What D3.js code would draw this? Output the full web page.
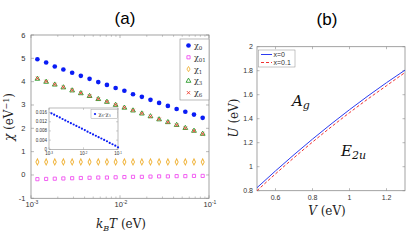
<!DOCTYPE html>
<html>
<head>
  <title>Susceptibility and phase boundary</title>
  <meta charset="utf-8">
  <script src="https://d3js.org/d3.v7.min.js"></script>
  <style>
    body { margin: 0; background: #fff; }
    text { font-family: "Liberation Sans", Arial, sans-serif; }
    .serif { font-family: "DejaVu Serif", "Liberation Serif", serif; }
  </style>
</head>
<body>
<script type="text/javascript">

/*
  Data
*/

// panel (a): k_B T on the log axis, one value per marker
var kbt = [0.00118, 0.00148, 0.00185, 0.00231, 0.0029, 0.00363, 0.00455, 0.0057, 0.00713, 0.00893,
           0.0112, 0.014, 0.0176, 0.022, 0.0275, 0.0345, 0.0433, 0.0542, 0.0678, 0.0849];
var chi0  = [4.96, 4.82, 4.65, 4.52, 4.38, 4.25, 4.12, 3.98, 3.86, 3.73,
             3.61, 3.46, 3.35, 3.22, 3.09, 2.96, 2.83, 2.71, 2.59, 2.45];
var chi01 = [-0.18, -0.17, -0.16, -0.15, -0.14, -0.13, -0.12, -0.11, -0.11, -0.10,
             -0.09, -0.08, -0.08, -0.07, -0.06, -0.06, -0.05, -0.05, -0.04, -0.04];
var chi1  = [0.56, 0.56, 0.56, 0.56, 0.56, 0.56, 0.56, 0.56, 0.56, 0.56,
             0.56, 0.56, 0.56, 0.56, 0.56, 0.56, 0.56, 0.56, 0.56, 0.56];
var chi3  = [4.12, 3.99, 3.87, 3.75, 3.62, 3.50, 3.38, 3.25, 3.13, 3.00,
             2.88, 2.76, 2.63, 2.51, 2.38, 2.26, 2.14, 2.01, 1.89, 1.76];
var chi6  = [4.14, 4.01, 3.88, 3.76, 3.63, 3.51, 3.39, 3.26, 3.14, 3.01,
             2.89, 2.77, 2.64, 2.51, 2.39, 2.26, 2.14, 2.01, 1.89, 1.76];

// inset: chi6 - chi3
var insetT = [0.00118, 0.00141, 0.0017, 0.00205, 0.00247, 0.00297, 0.00357, 0.0043, 0.00518, 0.00622,
              0.0075, 0.009, 0.0109, 0.0131, 0.0157, 0.0189, 0.0228, 0.0274, 0.033, 0.0397,
              0.0479, 0.0575, 0.0693, 0.0834, 0.1];
var insetDiff = [0.0157, 0.0151, 0.0145, 0.0139, 0.0132, 0.0126, 0.0120, 0.0114, 0.0108, 0.0102,
                 0.0096, 0.0090, 0.0084, 0.0077, 0.0071, 0.0065, 0.0059, 0.0053, 0.0047, 0.0041,
                 0.0035, 0.0028, 0.0022, 0.0016, 0.0009];

// panel (b): U against V
var volt = [0.5, 0.6, 0.7, 0.8, 0.9, 1.0, 1.1, 1.2, 1.3];
var uX0  = [0.825, 0.965, 1.10, 1.23, 1.355, 1.475, 1.59, 1.70, 1.805];
var uX01 = [0.80, 0.94, 1.075, 1.205, 1.33, 1.45, 1.565, 1.675, 1.785];

var yTicksA = [-1, 0, 1, 2, 3, 4, 5, 6];
var xTicksA = [0.001, 0.01, 0.1];
var xTickLabelsA = ["-3", "-2", "-1"];
var yTicksInset = [0, 0.004, 0.008, 0.012, 0.016];
var xTicksB = [0.6, 0.8, 1, 1.2];
var yTicksB = [0.8, 1, 1.2, 1.4, 1.6, 1.8, 2];

var series = [
  {name: "0",  values: chi0,  color: "#0a1cf5", type: d3.symbolCircle,   size: 17, fill: true},
  {name: "01", values: chi01, color: "#f050f0", type: d3.symbolSquare,   size: 10, fill: false},
  {name: "1",  values: chi1,  color: "#f0b43c", type: d3.symbolDiamond,  size: 8,  fill: false},
  {name: "3",  values: chi3,  color: "#2a9a2a", type: d3.symbolTriangle, size: 10, fill: false},
  {name: "6",  values: chi6,  color: "#f03c2c", type: d3.symbolX,        size: 8,  fill: false}
];

var width = 415, height = 240;
var frameColor = "#8c8c8c", tickText = "#333";

var svg = d3.select("body")
  .append("svg")
    .attr("width", width)
    .attr("height", height);

function mark(sel, s) {
  sel.attr("d", d3.symbol().type(s.type).size(s.size))
    .attr("fill", s.fill ? s.color : "none")
    .attr("stroke", s.color)
    .attr("stroke-width", s.fill ? 0 : 0.9);
}

/*
  Panel (a)
*/

var xA = d3.scaleLog().domain([0.001, 0.1]).range([31, 209]);
var yA = d3.scaleLinear().domain([-1, 6]).range([198.3, 35]);

var gA = svg.append("g").attr("class", "panelA");

gA.append("text")
  .attr("x", 125).attr("y", 24)
  .attr("text-anchor", "middle")
  .style("font-size", "17px")
  .text("(a)");

// ticks, inward on all four sides
var minorA = [];
[0.001, 0.01].forEach(function (d) {
  for (var k = 2; k <= 9; k++) minorA.push(d * k);
});
gA.selectAll(".minor").data(minorA).enter().append("path")
  .attr("d", function (d) {
    var x = xA(d);
    return "M" + x + "," + yA(-1) + "v-1.8M" + x + "," + yA(6) + "v1.8";
  })
  .attr("stroke", frameColor).attr("stroke-width", 0.5);
gA.selectAll(".xmaj").data(xTicksA).enter().append("path")
  .attr("d", function (d) {
    var x = xA(d);
    return "M" + x + "," + yA(-1) + "v-3M" + x + "," + yA(6) + "v3";
  })
  .attr("stroke", frameColor).attr("stroke-width", 0.6);
gA.selectAll(".ymaj").data(yTicksA).enter().append("path")
  .attr("d", function (d) {
    return "M31," + yA(d) + "h3M209," + yA(d) + "h-3";
  })
  .attr("stroke", frameColor).attr("stroke-width", 0.6);

gA.append("rect")
  .attr("x", 31).attr("y", yA(6))
  .attr("width", 178).attr("height", yA(-1) - yA(6))
  .attr("fill", "none").attr("stroke", frameColor).attr("stroke-width", 0.8);

gA.selectAll(".ylab").data(yTicksA).enter().append("text")
  .attr("x", 25.5).attr("y", function (d) { return yA(d) + 2.5; })
  .attr("text-anchor", "end")
  .style("font-size", "7.5px").attr("fill", tickText)
  .text(function (d) { return d; });

var xl = gA.selectAll(".xlab").data(xTicksA).enter().append("text")
  .attr("x", function (d) { return xA(d) + 1; })
  .attr("y", 207)
  .attr("text-anchor", "middle")
  .style("font-size", "7.5px").attr("fill", tickText);
xl.append("tspan").text("10");
xl.append("tspan").attr("dy", -3).style("font-size", "5px")
  .text(function (d, i) { return xTickLabelsA[i]; });

// axis titles
var xt = gA.append("text")
  .attr("class", "serif")
  .attr("x", 121).attr("y", 228)
  .attr("text-anchor", "middle")
  .style("font-size", "12px").attr("fill", "#222");
xt.append("tspan").style("font-style", "italic").text("k");
xt.append("tspan").attr("dy", 2.5).style("font-size", "8px").style("font-style", "italic").text("B");
xt.append("tspan").attr("dy", -2.5).style("font-style", "italic").text("T");
xt.append("tspan").text(" (eV)");

var yt = gA.append("text")
  .attr("class", "serif")
  .attr("transform", "translate(13,117) rotate(-90)")
  .attr("text-anchor", "middle")
  .style("font-size", "12px").attr("fill", "#222");
yt.append("tspan").style("font-style", "italic").text("χ");
yt.append("tspan").text(" (eV");
yt.append("tspan").attr("dy", -4).style("font-size", "8px").text("−1");
yt.append("tspan").attr("dy", 4).text(")");

// markers
series.forEach(function (s) {
  gA.append("g").selectAll("path")
    .data(kbt)
    .enter().append("path")
      .attr("transform", function (d, i) {
        return "translate(" + xA(d) + "," + yA(s.values[i]) + ")" + (s.type === d3.symbolDiamond ? " scale(1,1.15)" : "");
      })
      .call(mark, s);
});

// legend
gA.append("rect")
  .attr("x", 180).attr("y", 39).attr("width", 29).attr("height", 61)
  .attr("fill", "#fff").attr("stroke", frameColor).attr("stroke-width", 0.6);
series.forEach(function (s, i) {
  var ly = 45.5 + i * 11.8;
  gA.append("path")
    .attr("transform", "translate(188.5," + ly + ")")
    .call(mark, s);
  var t = gA.append("text")
    .attr("class", "serif")
    .attr("x", 194).attr("y", ly + 2.5)
    .style("font-size", "8px").attr("fill", "#333");
  t.append("tspan").text("χ");
  t.append("tspan").attr("dy", 2).style("font-size", "5.5px").text(s.name);
});

/*
  Inset of panel (a)
*/

var xI = d3.scaleLog().domain([0.001, 0.1]).range([49, 118]);
var yI = d3.scaleLinear().domain([0, 0.018]).range([149.3, 108]);

var gI = svg.append("g").attr("class", "inset");
gI.append("rect")
  .attr("x", 49).attr("y", 108).attr("width", 69).attr("height", 41.3)
  .attr("fill", "#fff").attr("stroke", frameColor).attr("stroke-width", 0.6);

gI.selectAll(".iy").data(yTicksInset).enter().append("path")
  .attr("d", function (d) { return "M49," + yI(d) + "h2M118," + yI(d) + "h-2"; })
  .attr("stroke", frameColor).attr("stroke-width", 0.4);
gI.selectAll(".ix").data(xTicksA).enter().append("path")
  .attr("d", function (d) { return "M" + xI(d) + ",149.3v-2M" + xI(d) + ",108v2"; })
  .attr("stroke", frameColor).attr("stroke-width", 0.4);

gI.selectAll(".iyl").data(yTicksInset).enter().append("text")
  .attr("x", 47).attr("y", function (d) { return yI(d) + 1.5; })
  .attr("text-anchor", "end")
  .style("font-size", "4.5px").attr("fill", tickText)
  .text(function (d) { return d === 0 ? "0" : d3.format(".3f")(d); });

var ixl = gI.selectAll(".ixl").data(xTicksA).enter().append("text")
  .attr("x", function (d) { return xI(d); })
  .attr("y", 155)
  .attr("text-anchor", "middle")
  .style("font-size", "4.5px").attr("fill", tickText);
ixl.append("tspan").text("10");
ixl.append("tspan").attr("dy", -1.5).style("font-size", "3px")
  .text(function (d, i) { return xTickLabelsA[i]; });

gI.selectAll("circle").data(insetT).enter().append("circle")
  .attr("cx", function (d) { return xI(d); })
  .attr("cy", function (d, i) { return yI(insetDiff[i]); })
  .attr("r", 1.1)
  .attr("fill", "#0a1cf5");

gI.append("rect")
  .attr("x", 91).attr("y", 109.5).attr("width", 26.5).attr("height", 9)
  .attr("fill", "#fff").attr("stroke", frameColor).attr("stroke-width", 0.4);
gI.append("circle").attr("cx", 95).attr("cy", 114).attr("r", 1.1).attr("fill", "#0a1cf5");
var il = gI.append("text")
  .attr("class", "serif")
  .attr("x", 98.5).attr("y", 115.5)
  .style("font-size", "5px").attr("fill", "#333");
il.append("tspan").text("χ");
il.append("tspan").attr("dy", 1).style("font-size", "3.5px").text("6");
il.append("tspan").attr("dy", -1).text("-χ");
il.append("tspan").attr("dy", 1).style("font-size", "3.5px").text("3");

/*
  Panel (b)
*/

var xB = d3.scaleLinear().domain([0.5, 1.3]).range([257, 405]);
var yB = d3.scaleLinear().domain([0.8, 2]).range([190.7, 46.7]);

var gB = svg.append("g").attr("class", "panelB");

gB.append("text")
  .attr("x", 327).attr("y", 25)
  .attr("text-anchor", "middle")
  .style("font-size", "17px")
  .text("(b)");

gB.selectAll(".bx").data(xTicksB).enter().append("path")
  .attr("d", function (d) { return "M" + xB(d) + ",190.7v-2.5M" + xB(d) + ",46.7v2.5"; })
  .attr("stroke", frameColor).attr("stroke-width", 0.6);
gB.selectAll(".by").data(yTicksB).enter().append("path")
  .attr("d", function (d) { return "M257," + yB(d) + "h2.5M405," + yB(d) + "h-2.5"; })
  .attr("stroke", frameColor).attr("stroke-width", 0.6);

gB.append("rect")
  .attr("x", 257).attr("y", 46.7).attr("width", 148).attr("height", 144)
  .attr("fill", "none").attr("stroke", frameColor).attr("stroke-width", 0.8);

gB.selectAll(".bxl").data(xTicksB).enter().append("text")
  .attr("x", function (d) { return xB(d); }).attr("y", 200)
  .attr("text-anchor", "middle")
  .style("font-size", "7px").attr("fill", tickText)
  .text(function (d) { return d; });
gB.selectAll(".byl").data(yTicksB).enter().append("text")
  .attr("x", 253).attr("y", function (d) { return yB(d) + 2.5; })
  .attr("text-anchor", "end")
  .style("font-size", "7px").attr("fill", tickText)
  .text(function (d) { return d; });

var line = d3.line()
  .curve(d3.curveMonotoneX)
  .x(function (d) { return xB(d[0]); })
  .y(function (d) { return yB(d[1]); });

gB.append("path")
  .datum(volt.map(function (v, i) { return [v, uX01[i]]; }))
  .attr("d", line)
  .attr("fill", "none").attr("stroke", "#f03232").attr("stroke-width", 1)
  .attr("stroke-dasharray", "3,2");
gB.append("path")
  .datum(volt.map(function (v, i) { return [v, uX0[i]]; }))
  .attr("d", line)
  .attr("fill", "none").attr("stroke", "#2c3cf0").attr("stroke-width", 1);

// legend
gB.append("rect")
  .attr("x", 258.5).attr("y", 50).attr("width", 36.5).attr("height", 17)
  .attr("fill", "#fff").attr("stroke", frameColor).attr("stroke-width", 0.5);
gB.append("line").attr("x1", 261).attr("x2", 272).attr("y1", 54.5).attr("y2", 54.5)
  .attr("stroke", "#2c3cf0").attr("stroke-width", 1);
gB.append("line").attr("x1", 261).attr("x2", 272).attr("y1", 62.5).attr("y2", 62.5)
  .attr("stroke", "#f03232").attr("stroke-width", 1).attr("stroke-dasharray", "3,2");
gB.append("text").attr("x", 273.5).attr("y", 57)
  .style("font-size", "7px").attr("fill", "#333").text("x=0");
gB.append("text").attr("x", 273.5).attr("y", 65)
  .style("font-size", "7px").attr("fill", "#333").text("x=0.1");

// region labels
var ag = gB.append("text").attr("class", "serif")
  .attr("x", 292).attr("y", 106)
  .style("font-size", "15px").style("font-style", "italic").attr("fill", "#111");
ag.append("tspan").text("A");
ag.append("tspan").attr("dy", 3).style("font-size", "11px").text("g");

var eu = gB.append("text").attr("class", "serif")
  .attr("x", 341).attr("y", 156)
  .style("font-size", "15px").style("font-style", "italic").attr("fill", "#111");
eu.append("tspan").text("E");
eu.append("tspan").attr("dy", 3).style("font-size", "11px").text("2u");

// axis titles
var vt = gB.append("text").attr("class", "serif")
  .attr("x", 327).attr("y", 215)
  .attr("text-anchor", "middle")
  .style("font-size", "12px").attr("fill", "#222");
vt.append("tspan").style("font-style", "italic").text("V");
vt.append("tspan").text(" (eV)");

var ut = gB.append("text").attr("class", "serif")
  .attr("transform", "translate(238,118) rotate(-90)")
  .attr("text-anchor", "middle")
  .style("font-size", "12px").attr("fill", "#222");
ut.append("tspan").style("font-style", "italic").text("U");
ut.append("tspan").text(" (eV)");

</script>
</body>
</html>
